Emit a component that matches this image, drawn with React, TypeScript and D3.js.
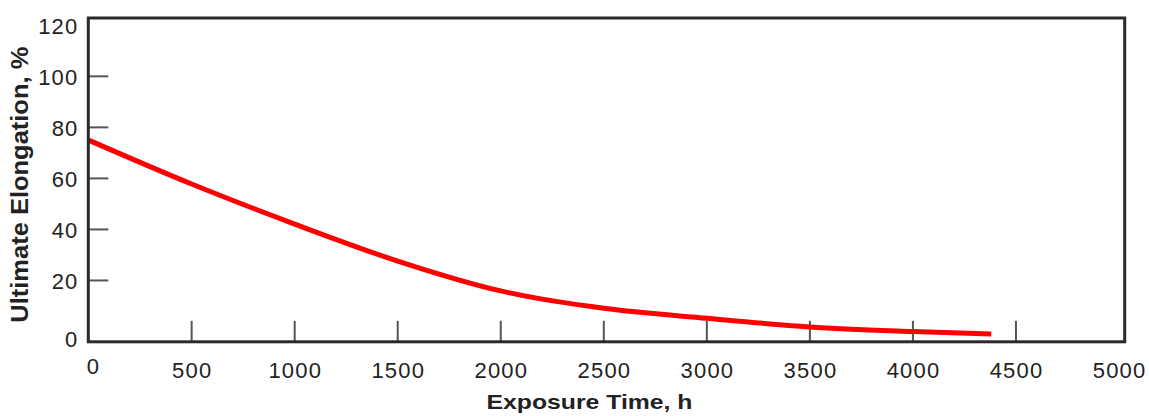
import React from "react";
import * as d3 from "d3";

const hours = [0, 500, 1000, 1500, 2000, 2500, 3000, 3500, 4000, 4380];
const elongation = [75, 57.8, 42.1, 27.6, 15.9, 9.1, 5.2, 1.8, 0.0, -1.0];
const xTicks = [0, 500, 1000, 1500, 2000, 2500, 3000, 3500, 4000, 4500, 5000];
const yTicks = [0, 20, 40, 60, 80, 100, 120];
const xTitle = "Exposure Time, h";
const yTitle = "Ultimate Elongation, %";

const W = 1149;
const H = 416;
const frame = { left: 88.3, right: 1124.7, top: 18, bottom: 341.8 };

export default function App() {
  const x = d3.scaleLinear().domain([0, 5000]).range([88.6, 1119]);
  const y = d3.scaleLinear().domain([0, 120]).range([331.5, 25.3]);

  const pts: [number, number][] = hours.map((h, i) => [h, elongation[i]]);
  const line = d3
    .line<[number, number]>()
    .x((d) => x(d[0]))
    .y((d) => y(d[1]))
    .curve(d3.curveMonotoneX);

  const axisColor = "#2a2a2a";
  const tickColor = "#555";
  const textColor = "#222";
  const font = "'Liberation Sans', Arial, Helvetica, sans-serif";

  return (
    <svg
      width={W}
      height={H}
      style={{ position: "absolute", left: 0, top: 0, background: "#fff" }}
    >
      <rect x={0} y={0} width={W} height={H} fill="#fff" />
      {/* y ticks */}
      {yTicks
        .filter((t) => t > 0 && t < 120)
        .map((t) => (
          <line
            key={"yt" + t}
            x1={frame.left}
            x2={frame.left + 20}
            y1={y(t)}
            y2={y(t)}
            stroke={tickColor}
            strokeWidth={2}
          />
        ))}
      {/* x ticks */}
      {xTicks
        .filter((t) => t > 0 && t < 5000)
        .map((t) => (
          <line
            key={"xt" + t}
            x1={x(t)}
            x2={x(t)}
            y1={frame.bottom}
            y2={frame.bottom - 21}
            stroke={tickColor}
            strokeWidth={2}
          />
        ))}
      {/* data line */}
      <path
        d={line(pts) || ""}
        fill="none"
        stroke="#ff0000"
        strokeWidth={5}
      />
      {/* frame */}
      <rect
        x={frame.left}
        y={frame.top}
        width={frame.right - frame.left}
        height={frame.bottom - frame.top}
        fill="none"
        stroke={axisColor}
        strokeWidth={3}
      />
      {/* y tick labels */}
      {yTicks.map((t) => (
        <text
          key={"yl" + t}
          x={78.5}
          y={t === 0 ? frame.bottom - 2 : y(t) + 1}
          textAnchor="end"
          dominantBaseline="central"
          fontFamily={font}
          fontSize={22}
          letterSpacing={1.2}
          fill={textColor}
        >
          {t}
        </text>
      ))}
      {/* x tick labels */}
      {xTicks.map((t) => (
        <text
          key={"xl" + t}
          x={t === 0 ? x(t) + 4.8 : x(t) + 0.6}
          y={t === 0 ? 374 : 378.3}
          textAnchor="middle"
          fontFamily={font}
          fontSize={22}
          letterSpacing={1.2}
          fill={textColor}
        >
          {t}
        </text>
      ))}
      {/* axis titles */}
      <text
        x={589.5}
        y={409}
        textAnchor="middle"
        fontFamily={font}
        fontWeight="bold"
        fontSize={21}
        textLength={206}
        lengthAdjust="spacingAndGlyphs"
        fill={textColor}
      >
        {xTitle}
      </text>
      <text
        transform={`translate(27.5, 184.7) rotate(-90)`}
        x={0}
        y={0}
        textAnchor="middle"
        fontFamily={font}
        fontWeight="bold"
        fontSize={23}
        textLength={276}
        lengthAdjust="spacingAndGlyphs"
        fill={textColor}
      >
        {yTitle}
      </text>
    </svg>
  );
}
